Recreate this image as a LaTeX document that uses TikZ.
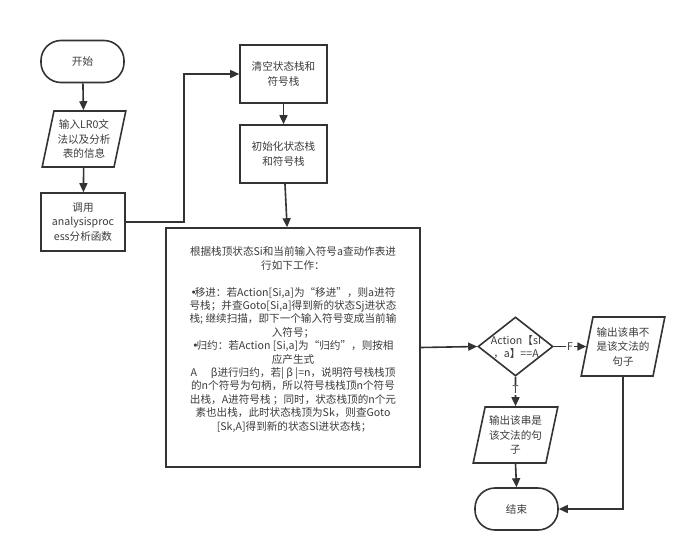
\documentclass[tikz,border=0pt]{standalone}
\usepackage{fontspec}
\setmainfont{Noto Sans CJK SC}
\newfontfamily\dejavu{DejaVu Sans}
\usetikzlibrary{shapes.geometric,arrows.meta}
\definecolor{ln}{HTML}{333333}
\definecolor{tx}{HTML}{3C3C3C}
\newcommand{\blt}{{\dejavu •}\kern-0.2em}
\tikzset{
  base/.style={draw=ln, line width=1.6pt, text=tx, font=\fontsize{10.6}{14.5}\selectfont, align=center, inner sep=0pt},
  term/.style={base, rectangle, rounded corners=20pt, minimum width=83pt, minimum height=42pt},
  proc/.style={base, rectangle},
  io/.style={base, trapezium, trapezium left angle=75, trapezium right angle=105, trapezium stretches=true},
  decision/.style={base, diamond, minimum width=75pt, minimum height=59pt},
  plain/.style={text=tx, font=\fontsize{10.6}{13.4}\selectfont, align=center, inner sep=0pt},
  arr/.style={draw=ln, line width=1.6pt, -{Triangle[length=9pt,width=8pt]}},
  lbl/.style={fill=white, text=tx, font=\fontsize{10.6}{13}\selectfont, inner sep=1pt}
}
\begin{document}
\begin{tikzpicture}[x=1pt,y=-1pt]
\useasboundingbox[fill=white] (0,0) rectangle (692,559);

\node[term] (start) at (82.5,61.5) {开始};
\node[io, minimum width=84pt, minimum height=56pt] (inp) at (84,139) {输入LR0文\\法以及分析\\表的信息};
\node[proc, minimum width=84pt, minimum height=58pt] (call) at (83,222) {调用\\analysisproc\\ess分析函数};
\node[proc, minimum width=87pt, minimum height=58pt] (clr) at (283.5,74) {清空状态栈和\\符号栈};
\node[proc, minimum width=87pt, minimum height=58pt] (init) at (283.5,154) {初始化状态栈\\和符号栈};
\node[proc, minimum width=254pt, minimum height=239pt] (big) at (293,347.5) {};
\node[plain] (bigtext) at (293,339.5) {根据栈顶状态Si和当前输入符号a查动作表进\\
行如下工作：\\[13.4pt]
\blt 移进：若Action[Si,a]为“移进”，则a进符\\
号栈；并查Goto[Si,a]得到新的状态Sj进状态\\
栈; 继续扫描，即下一个输入符号变成当前输\\
入符号；\\
\blt 归约：若Action [Si,a]为“归约”，则按相\\
应产生式\\
A\hspace{1.3em}β进行归约，若| β |=n，说明符号栈栈顶\\
的n个符号为句柄，所以符号栈栈顶n个符号\\
出栈，A进符号栈 ；同时，状态栈顶的n个元\\
素也出栈，此时状态栈顶为Sk，则查Goto\\{}
[Sk,A]得到新的状态Sl进状态栈；};
\node[decision] (dec) at (515.5,346.5) {};
\node[plain] (dectext) at (516,347) {Action【sI\\，a】==A};
\node[io, minimum width=84pt, minimum height=59pt] (no) at (623,346.5) {输出该串不\\是该文法的\\句子};
\node[io, minimum width=85pt, minimum height=56pt] (yes) at (515.5,435) {输出该串是\\该文法的句\\子};
\node[term] (end) at (516.5,509) {结束};

\draw[arr] (start) -- (inp);
\draw[arr] (inp) -- (call);
\draw[arr] (call.east) -- ++(58,0) |- (clr.west);
\draw[arr] (clr) -- (init);
\draw[arr] (init) -- (big);
\draw[arr] (big.east) -- (dec.west);
\draw[arr] (dec.east) -- (no.left side) node[lbl, midway] (f) {F};
\draw[arr] (dec.south) -- (yes.north) node[lbl, pos=0.45] (t) {T};
\draw[arr] (yes.south) -- (end.north);
\draw[arr] (no.south) |- (end.east);
\end{tikzpicture}
\end{document}
